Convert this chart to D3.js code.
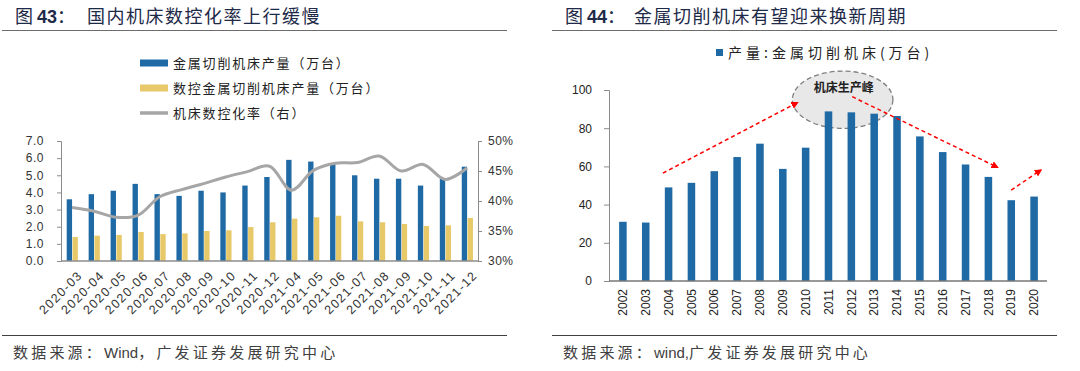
<!DOCTYPE html>
<html lang="zh">
  <head>
    <meta charset="UTF-8" />
    <title>机床</title>
    <script src="https://d3js.org/d3.v7.min.js"></script>
    <style>
      body { margin: 0; background: #fff; }
      svg text { font-family: "Liberation Sans", Arial, "Noto Sans CJK SC", sans-serif; }
      .cjk { font-family: "Noto Sans CJK SC", sans-serif !important; }
    </style>
  </head>
  <body>
    <svg width="1080" height="371"></svg>
    <script>
      // ---- left chart data ----
      let months = ["2020-03", "2020-04", "2020-05", "2020-06", "2020-07", "2020-08", "2020-09",
        "2020-10", "2020-11", "2020-12", "2021-04", "2021-05", "2021-06", "2021-07", "2021-08",
        "2021-09", "2021-10", "2021-11", "2021-12"];
      let metalOutput = [3.6, 3.9, 4.1, 4.5, 3.9, 3.8, 4.1, 4.0, 4.4, 4.9, 5.9, 5.8, 5.7, 5.0, 4.8, 4.8, 4.4, 4.8, 5.5];
      let cncOutput = [1.4, 1.48, 1.52, 1.69, 1.57, 1.61, 1.75, 1.79, 1.98, 2.26, 2.47, 2.55, 2.64, 2.31, 2.26, 2.16, 2.04, 2.08, 2.51];
      let cncRate = [38.9, 38.3, 37.3, 37.6, 40.7, 41.9, 42.9, 44.0, 44.9, 45.8, 41.8, 45.1, 46.3, 46.4, 47.5, 45.0, 46.1, 43.6, 45.5];
      let leftTicks = [0, 1, 2, 3, 4, 5, 6, 7];
      let rightTicks = [30, 35, 40, 45, 50];

      // ---- right chart data ----
      let years = ["2002", "2003", "2004", "2005", "2006", "2007", "2008", "2009", "2010", "2011",
        "2012", "2013", "2014", "2015", "2016", "2017", "2018", "2019", "2020"];
      let yearOutput = [31, 30.6, 49, 51.4, 57.5, 64.9, 71.9, 58.7, 69.8, 88.8, 88.3, 87.6, 86.4, 75.7, 67.5, 61.0, 54.5, 42.3, 44.2];
      let yearTicks = [0, 20, 40, 60, 80, 100];
      // annotations in data units: [year, value]
      let arrows = [
        [[2003.75, 56.5], [2009.64, 93.4]],
        [[2012.04, 96.5], [2018.4, 59.5]],
        [[2019.0, 47.6], [2020.3, 58.1]],
      ];
      let peak = { year: 2011.62, value: 94.9, rx: 2.2, ry: 15, label: "机床生产峰" };

      let blue = "#1f6aa5", yellow = "#e8c96a", lineGray = "#a6a6a6", axisGray = "#8c8c8c";
      let titleColor = "#1d2a48", srcColor = "#404040";

      let svg = d3.select("svg");
      let defs = svg.append("defs");
      defs.append("marker").attr("id", "head").attr("viewBox", "0 0 10 10")
        .attr("refX", 8).attr("refY", 5).attr("markerWidth", 5).attr("markerHeight", 5)
        .attr("orient", "auto")
        .append("path").attr("d", "M0,0 L10,5 L0,10 z").attr("fill", "#ff0000");

      // ---- headers and footers ----
      function header(x0, x1, num, txt, tx) {
        let t = svg.append("text").attr("x", x0).attr("y", 23).attr("fill", titleColor)
          .attr("font-size", 18).attr("class", "cjk");
        t.append("tspan").text("图 ");
        t.append("tspan").attr("font-weight", "bold").style("font-family", "Liberation Sans, Arial").text(num);
        t.append("tspan").text("：");
        svg.append("text").attr("class", "cjk").attr("x", tx).attr("y", 23).attr("fill", titleColor)
          .attr("font-size", 18).style("letter-spacing", "1.5px").text(txt);
        svg.append("line").attr("x1", x0 - 13).attr("x2", x1).attr("y1", 30.5).attr("y2", 30.5)
          .attr("stroke", "#6d6d6d").attr("stroke-width", 1);
        svg.append("line").attr("x1", x0 - 13).attr("x2", x1).attr("y1", 335.5).attr("y2", 335.5)
          .attr("stroke", "#404040").attr("stroke-width", 1);
      }
      header(15, 507, "43", "国内机床数控化率上行缓慢", 87);
      header(565, 1057, "44", "金属切削机床有望迎来换新周期", 634);

      function source(x, parts) {
        let t = svg.append("text").attr("x", x).attr("y", 358).attr("fill", srcColor).attr("font-size", 15);
        parts.forEach((p) => {
          let s = t.append("tspan").text(p[0]);
          if (p[1]) s.attr("class", "cjk").style("letter-spacing", "3.2px");
          else s.style("letter-spacing", "0px");
        });
      }
      source(13, [["数据来源：", true], ["Wind", false], ["，广发证券发展研究中心", true]]);
      source(563, [["数据来源：", true], ["wind,", false], ["广发证券发展研究中心", true]]);

      // ---- left chart ----
      let left = svg.append("g");
      let xL = d3.scaleBand().domain(months).range([61, 478]);
      let bw = xL.bandwidth();
      let xSub = d3.scaleBand().domain(["metal", "cnc"]).range([bw * 0.26, bw * 0.77]).paddingInner(0.08);
      let yL = d3.scaleLinear().domain([0, 7]).range([261, 141]);
      let yR = d3.scaleLinear().domain([30, 50]).range([261, 141]);

      left.selectAll(".metal").data(months).join("rect")
        .attr("x", (d) => xL(d) + xSub("metal")).attr("width", xSub.bandwidth())
        .attr("y", (d, i) => yL(metalOutput[i])).attr("height", (d, i) => yL(0) - yL(metalOutput[i]))
        .attr("fill", blue);
      left.selectAll(".cnc").data(months).join("rect")
        .attr("x", (d) => xL(d) + xSub("cnc")).attr("width", xSub.bandwidth())
        .attr("y", (d, i) => yL(cncOutput[i])).attr("height", (d, i) => yL(0) - yL(cncOutput[i]))
        .attr("fill", yellow);

      let rateLine = d3.line()
        .x((d, i) => xL(months[i]) + bw / 2)
        .y((d) => yR(d))
        .curve(d3.curveCatmullRom.alpha(0.5));
      left.append("path").attr("d", rateLine(cncRate)).attr("fill", "none")
        .attr("stroke", lineGray).attr("stroke-width", 3);

      let axL = left.append("g").attr("transform", "translate(61,0)")
        .call(d3.axisLeft(yL).tickValues(leftTicks).tickFormat(d3.format(".1f")).tickSizeOuter(0).tickSize(4).tickPadding(13));
      let axR = left.append("g").attr("transform", "translate(478,0)")
        .call(d3.axisRight(yR).tickValues(rightTicks).tickFormat((d) => d + "%").tickSizeOuter(0).tickSize(4).tickPadding(6));
      [axL, axR].forEach((a) => {
        a.select(".domain").attr("stroke", axisGray);
        a.selectAll(".tick line").attr("stroke", axisGray);
        a.selectAll("text").attr("font-size", 12).attr("fill", "#333").style("letter-spacing", "0.5px");
      });
      left.append("line").attr("x1", 61).attr("x2", 478).attr("y1", 261).attr("y2", 261)
        .attr("stroke", axisGray).attr("stroke-width", 1.5);
      left.selectAll(".xl").data(months).join("text")
        .attr("transform", (d) => "translate(" + (xL(d) + bw / 2 + 5) + ",270) rotate(-45)")
        .attr("text-anchor", "end").attr("dy", "0.7em").attr("font-size", 12.5).attr("fill", "#333")
        .style("letter-spacing", "1.3px")
        .text((d) => d);

      // legend
      let legItems = [
        { label: "金属切削机床产量（万台）", color: blue, w: 7 },
        { label: "数控金属切削机床产量（万台）", color: yellow, w: 7 },
        { label: "机床数控化率（右）", color: lineGray, w: 3.5 },
      ];
      legItems.forEach((d, i) => {
        let y = 63 + i * 25;
        left.append("line").attr("x1", 140).attr("x2", 168).attr("y1", y).attr("y2", y)
          .attr("stroke", d.color).attr("stroke-width", d.w);
        left.append("text").attr("class", "cjk").attr("x", 173).attr("y", y).attr("dy", "0.35em")
          .attr("font-size", 13).style("letter-spacing", "1.8px").attr("fill", "#222").text(d.label);
      });

      // ---- right chart ----
      let right = svg.append("g");
      let x2 = d3.scaleBand().domain(years).range([610, 1047]).paddingInner(0.67).paddingOuter(0.4);
      let y2 = d3.scaleLinear().domain([0, 100]).range([281, 90]);
      let xYear = d3.scaleLinear().domain([2002, 2020])
        .range([x2("2002") + x2.bandwidth() / 2, x2("2020") + x2.bandwidth() / 2]);

      // peak ellipse sits behind the bars
      right.append("ellipse").attr("cx", xYear(peak.year)).attr("cy", y2(peak.value))
        .attr("rx", xYear(2002 + peak.rx) - xYear(2002)).attr("ry", y2(0) - y2(peak.ry))
        .attr("fill", "#d9d9d9").attr("fill-opacity", 0.6)
        .attr("stroke", "#808080").attr("stroke-width", 1.3).attr("stroke-dasharray", "5,3");

      right.selectAll(".yr").data(years).join("rect")
        .attr("x", (d) => x2(d)).attr("width", x2.bandwidth())
        .attr("y", (d, i) => y2(yearOutput[i])).attr("height", (d, i) => y2(0) - y2(yearOutput[i]))
        .attr("fill", blue);

      let ax2 = right.append("g").attr("transform", "translate(609,0)")
        .call(d3.axisLeft(y2).tickValues(yearTicks).tickSizeOuter(0).tickSize(5).tickPadding(12));
      ax2.select(".domain").attr("stroke", axisGray);
      ax2.selectAll(".tick line").attr("stroke", axisGray);
      ax2.selectAll("text").attr("font-size", 12).attr("fill", "#222");
      right.append("line").attr("x1", 609).attr("x2", 1047).attr("y1", 281).attr("y2", 281)
        .attr("stroke", "#777").attr("stroke-width", 1.5);
      right.selectAll(".xl2").data(years).join("text")
        .attr("transform", (d) => "translate(" + (x2(d) + x2.bandwidth() / 2) + ",289) rotate(-90)")
        .attr("text-anchor", "end").attr("dy", "0.35em").attr("font-size", 12).attr("fill", "#222")
        .text((d) => d);

      // legend
      right.append("rect").attr("x", 716).attr("y", 49).attr("width", 7).attr("height", 7).attr("fill", blue);
      right.append("text").attr("class", "cjk").attr("x", 728).attr("y", 53).attr("dy", "0.35em")
        .attr("font-size", 14).style("letter-spacing", "4px").attr("fill", "#222").text("产量:金属切削机床(万台)");

      // annotations
      right.append("text").attr("class", "cjk").attr("x", xYear(peak.year) + 1).attr("y", y2(101))
        .attr("dy", "0.35em").attr("text-anchor", "middle").attr("font-size", 12)
        .attr("font-weight", "bold").attr("fill", "#222").text(peak.label);
      arrows.forEach((a) => {
        right.append("line")
          .attr("x1", xYear(a[0][0])).attr("y1", y2(a[0][1]))
          .attr("x2", xYear(a[1][0])).attr("y2", y2(a[1][1]))
          .attr("stroke", "#ff0000").attr("stroke-width", 1.5).attr("stroke-dasharray", "4,3")
          .attr("marker-end", "url(#head)");
      });
    </script>
  </body>
</html>
